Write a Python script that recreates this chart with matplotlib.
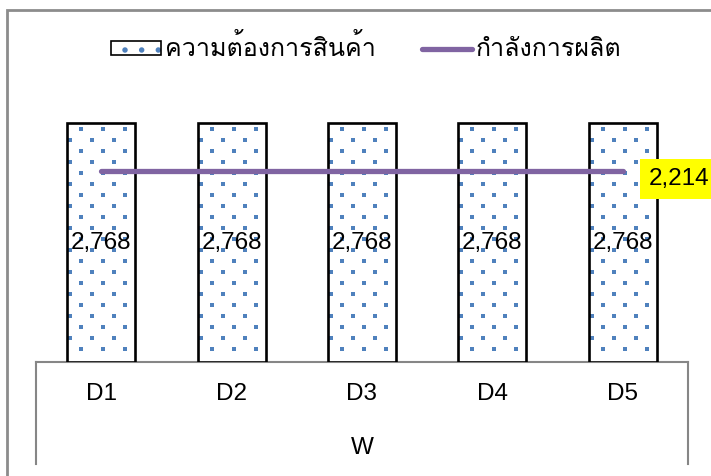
import matplotlib
matplotlib.use("Agg")
import matplotlib.pyplot as plt
from matplotlib import font_manager, ft2font
from matplotlib.lines import Line2D
from matplotlib.patches import Rectangle
from matplotlib.legend_handler import HandlerTuple

# data
days = ["D1", "D2", "D3", "D4", "D5"]
group_label = "W"
demand = [2768, 2768, 2768, 2768, 2768]
capacity = [2214, 2214, 2214, 2214, 2214]
demand_name = "ความต้องการสินค้า"
capacity_name = "กำลังการผลิต"


def find_thai_font():
    # first installed font that actually has Thai glyphs
    for entry in font_manager.fontManager.ttflist:
        try:
            ft = ft2font.FT2Font(entry.fname)
            if ft.get_char_index(0x0E01) and ft.get_char_index(0x0E32):
                return entry.name
        except Exception:
            continue
    return None


thai = find_thai_font()
families = ["Liberation Sans"] + ([thai] if thai else []) + ["DejaVu Sans"]
plt.rcParams["font.family"] = families
plt.rcParams["hatch.linewidth"] = 1.0

W, H = 711, 476
fig = plt.figure(figsize=(W / 100, H / 100), dpi=100)

ymax = 3200
px_per_unit = 239 / 2768
ax_w = 652
ax_h = ymax * px_per_unit
ax = fig.add_axes([36 / W, 114 / H, ax_w / W, ax_h / H])

x = list(range(len(days)))
bw = 0.52
blue = "#4F81BD"
purple = "#8064A2"
grey = "#868686"
px_per_cat = ax_w / len(days)


def dot_texture(x0, width, height):
    # staggered dot pattern: rows 11px apart, dots 22px apart in a row
    bar_w_px = width * px_per_cat
    bar_h_px = height * px_per_unit
    xs, ys = [], []
    row = 0
    ypx = 6
    while ypx < bar_h_px - 2:
        xpx = 14 if row % 2 == 0 else 3
        while xpx < bar_w_px - 2:
            xs.append(x0 + xpx / px_per_cat)
            ys.append(height - ypx / px_per_unit)
            xpx += 22
        row += 1
        ypx += 11
    return xs, ys


bars = ax.bar(x, demand, width=bw, facecolor="none", edgecolor="black",
              linewidth=1.9, zorder=3)
bars_bg = ax.bar(x, demand, width=bw, facecolor="white", linewidth=0,
                 zorder=1)
for b in bars_bg:
    dx, dy = dot_texture(b.get_x(), b.get_width(), b.get_height())
    ax.scatter(dx, dy, marker="s", s=4.8, color=blue, linewidths=0,
               zorder=2)

ax.plot(x, capacity, color=purple, linewidth=3.8, solid_capstyle="round",
        zorder=4)

fs = 17.5
for xi, v in zip(x, demand):
    ax.text(xi, v / 2, f"{v:,}", ha="center", va="center", fontsize=fs,
            zorder=5)

ax.annotate(f"{capacity[-1]:,}", xy=(x[-1], capacity[-1]),
            xytext=(19, -6), textcoords="offset points", ha="left",
            va="center", fontsize=fs, zorder=6, annotation_clip=False,
            bbox=dict(boxstyle="square,pad=0.38", facecolor="#FFFF00",
                      edgecolor="none"))

ax.set_xlim(-0.5, len(days) - 0.5)
ax.set_ylim(0, ymax)
ax.set_yticks([])
ax.set_xticks(x, days, fontsize=fs)
ax.tick_params(axis="x", length=0, pad=15)
for side in ("top", "left", "right"):
    ax.spines[side].set_visible(False)
ax.spines["bottom"].set_color(grey)
ax.spines["bottom"].set_linewidth(1.5)
ax.spines["bottom"].set_zorder(0.5)

# multi-level category box sides and outer group label
drop = -102 / ax_h
for xa in (0, 1):
    ax.plot([xa, xa], [0, drop], transform=ax.transAxes, color=grey,
            linewidth=1.5, clip_on=False)
ax.text(0.5, -(448 - 362) / ax_h, group_label, transform=ax.transAxes,
        ha="center", va="center", fontsize=fs)

# chart frame
fig.add_artist(Rectangle((6.5 / W, -0.2), 1.2, 1.2 - 10 / H,
                         transform=fig.transFigure, fill=False,
                         edgecolor="#8C8C8C", linewidth=2))

plt.rcParams["hatch.linewidth"] = 1.5
demand_handle = (
    Rectangle((0, 0), 1, 1, facecolor="white", edgecolor=blue,
              linewidth=0, hatch="."),
    Rectangle((0, 0), 1, 1, fill=False, edgecolor="black", linewidth=1.2),
)
capacity_handle = Line2D([0], [0], color=purple, linewidth=3.8,
                         solid_capstyle="round")
fig.legend([demand_handle, capacity_handle], [demand_name, capacity_name],
           handler_map={tuple: HandlerTuple(ndivide=1)},
           loc="center", bbox_to_anchor=(366 / W, 1 - 48 / H), ncol=2,
           frameon=False, fontsize=18, handlelength=2.0,
           handleheight=0.5, handletextpad=0.15, columnspacing=1.85)

fig.savefig("out.png", dpi=100)
